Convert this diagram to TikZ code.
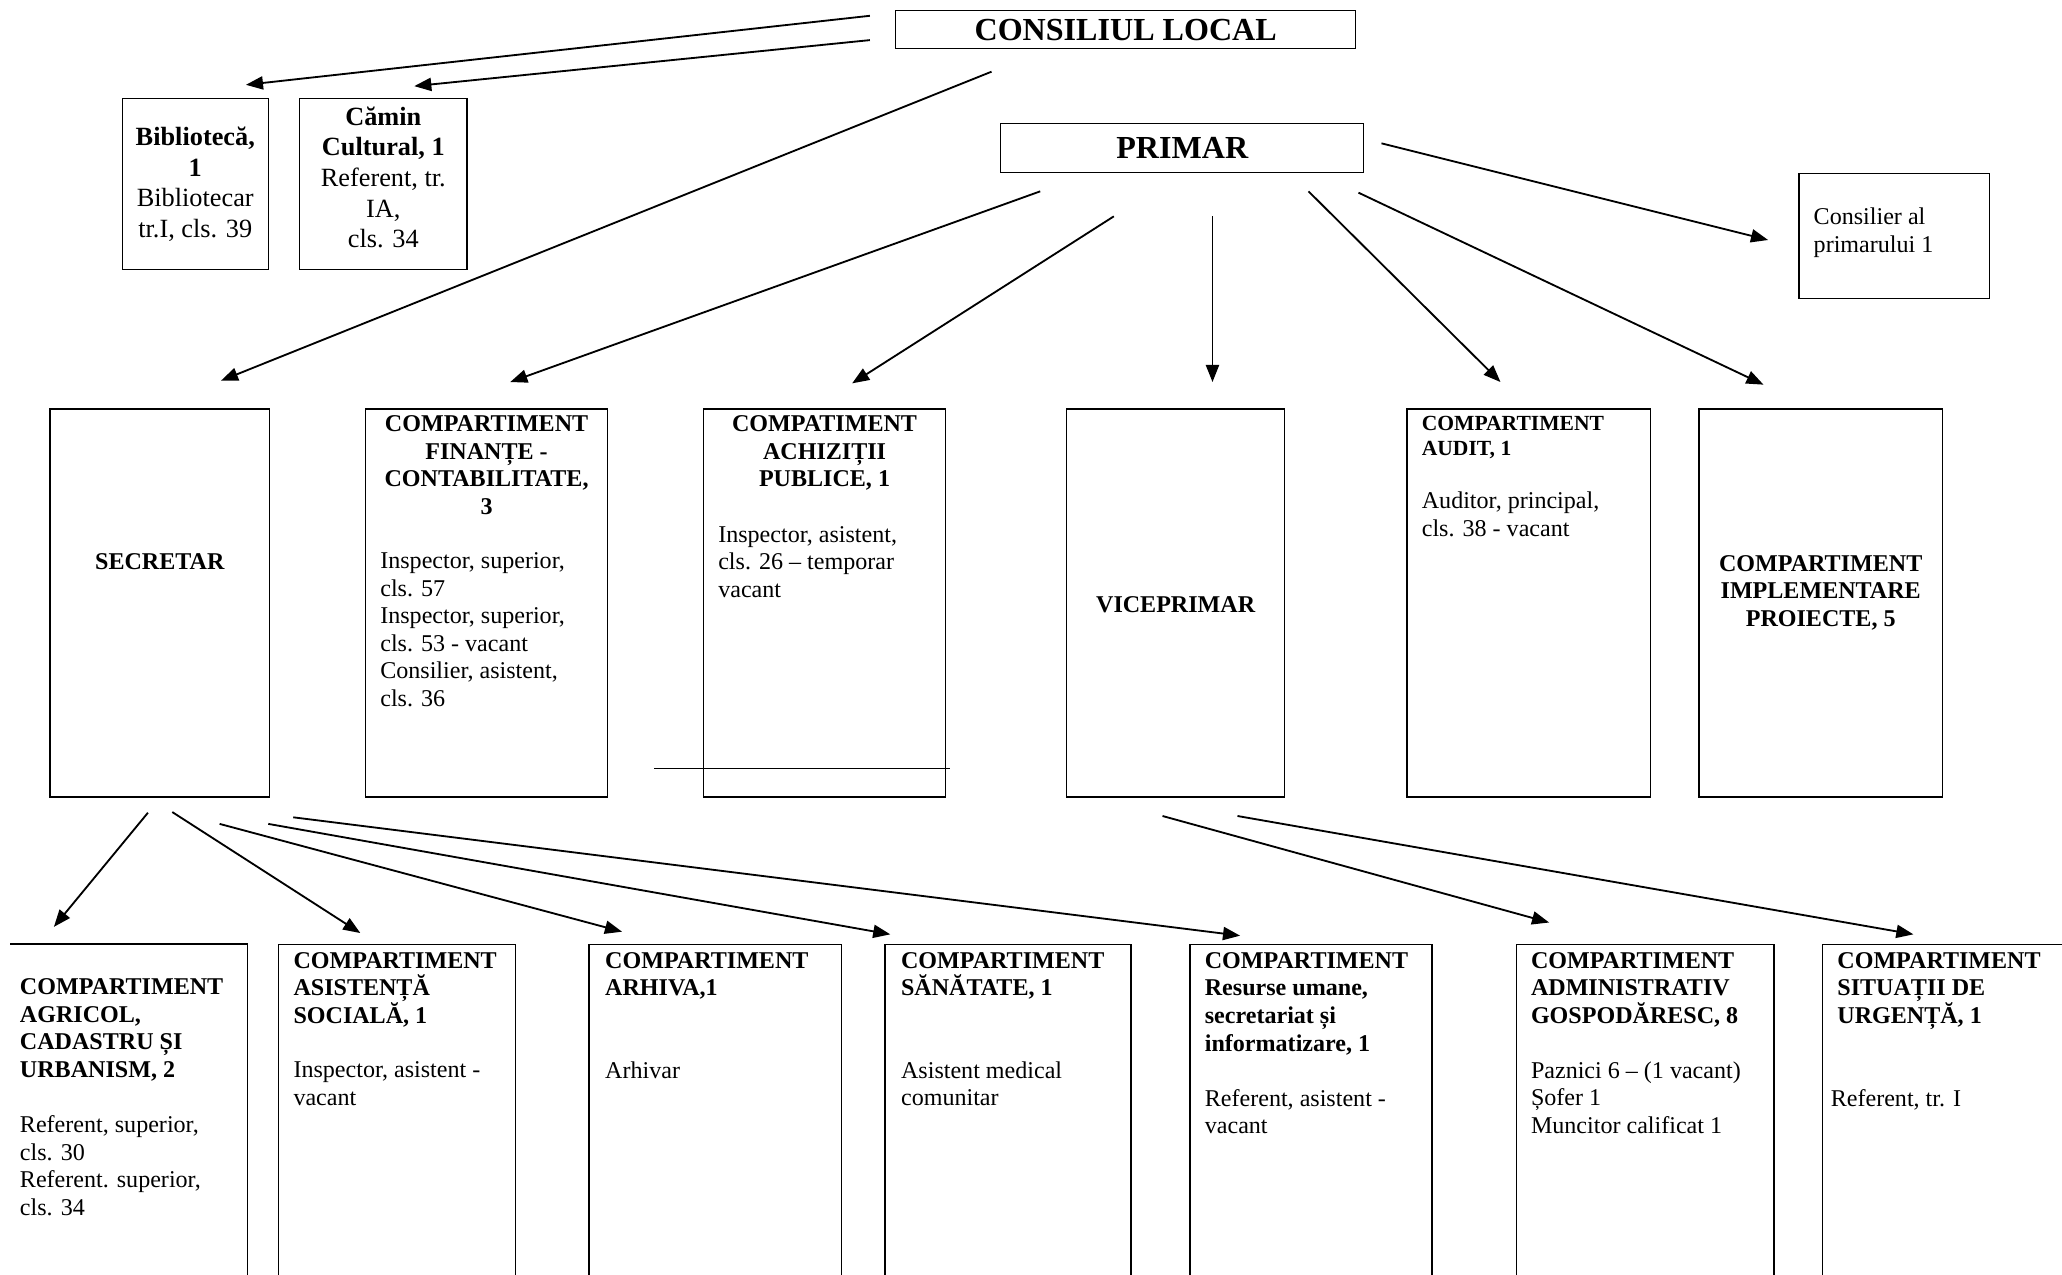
\documentclass[tikz,border=0pt]{standalone}
\usepackage{fontspec}
\setmainfont{Liberation Serif}
\usetikzlibrary{calc}
\usetikzlibrary{arrows.meta}

\newcommand{\nsz}{\fontsize{18.3}{21}\selectfont}
\newcommand{\bsz}{\fontsize{20}{23.3}\selectfont}
\newcommand{\ssz}{\fontsize{16.4}{19}\selectfont}
\newcommand{\hsz}{\fontsize{24.4}{28}\selectfont}

\begin{document}
\begin{tikzpicture}[x=1pt,y=-1pt,
  box/.style={draw,line width=1pt,inner sep=0pt},
  ttl/.style={inner sep=0pt,font=\nsz\bfseries,align=center},
  ltxt/.style={inner sep=0pt,font=\nsz,align=left,anchor=north west},
  arr/.style={line width=1.4pt,-{Triangle[length=13pt,width=10pt]}}]
\useasboundingbox (0,0) rectangle (1568,969);
\clip (0,0) rectangle (1568,969);
\fill[white] (0,0) rectangle (1568,969);

\node[box,minimum width=350pt,minimum height=29pt,font=\hsz\bfseries] (cl) at (856,22.5) {CONSILIUL LOCAL};
\node[box,minimum width=276pt,minimum height=37pt,font=\hsz\bfseries] (prim) at (899,112.5) {PRIMAR};
\node[box,minimum width=111pt,minimum height=130pt,font=\bsz,align=center] (bib) at (148.5,140) {\textbf{Bibliotecă,}\\\textbf{1}\\Bibliotecar\\tr.I, cls. 39};
\node[box,minimum width=127pt,minimum height=130pt] (cam) at (291.5,140) {};
\node[inner sep=0pt,font=\bsz,align=center] (cam-t) at (291.5,135) {\textbf{Cămin}\\\textbf{Cultural, 1}\\Referent, tr.\\IA,\\cls. 34};
\node[box,minimum width=145pt,minimum height=95pt] (cons) at (1440.5,179.5) {};
\node[ltxt] (cons-t) at (1379,158) {Consilier al\\primarului 1};

\node[box,minimum width=167pt,minimum height=295pt] (sec) at (121.5,458.5) {};
\node[ttl] (sec-t) at (121.5,427) {SECRETAR};
\node[box,minimum width=184pt,minimum height=295pt] (fin) at (370,458.5) {};
\node[ttl,anchor=north] (fin-t) at (370,316) {COMPARTIMENT\\FINANȚE -\\CONTABILITATE,\\3};
\node[ltxt] (fin-b) at (289,420) {Inspector, superior,\\cls. 57\\Inspector, superior,\\cls. 53 - vacant\\Consilier, asistent,\\cls. 36};
\node[box,minimum width=184pt,minimum height=295pt] (ach) at (627,458.5) {};
\node[ttl,anchor=north] (ach-t) at (627,316) {COMPATIMENT\\ACHIZIȚII\\PUBLICE, 1};
\node[ltxt] (ach-b) at (546,400) {Inspector, asistent,\\cls. 26 – temporar\\vacant};
\draw[line width=1pt] ($(ach.south west)+(-37,-22)$) -- ($(ach.south east)+(3,-22)$);
\node[box,minimum width=166pt,minimum height=295pt] (vice) at (894,458.5) {};
\node[ttl] (vice-t) at (894,460) {VICEPRIMAR};
\node[box,minimum width=185pt,minimum height=295pt] (aud) at (1162.5,458.5) {};
\node[ltxt,font=\ssz\bfseries] (aud-t) at (1081,316.5) {COMPARTIMENT\\AUDIT, 1};
\node[ltxt] (aud-b) at (1081,374) {Auditor, principal,\\cls. 38 - vacant};
\node[box,minimum width=185pt,minimum height=295pt] (impl) at (1384.5,458.5) {};
\node[ttl,anchor=north] (impl-t) at (1384.5,422) {COMPARTIMENT\\IMPLEMENTARE\\PROIECTE, 5};

\node[inner sep=0pt,minimum width=180pt,minimum height=300pt] (agr) at (98,868) {};
\draw[line width=1pt] (agr.north west) -- (agr.north east) -- (agr.south east);
\node[ltxt,font=\nsz\bfseries] (agr-t) at (15,744) {COMPARTIMENT\\AGRICOL,\\CADASTRU ȘI\\URBANISM, 2};
\node[ltxt] (agr-b) at (15,848) {Referent, superior,\\cls. 30\\Referent. superior,\\cls. 34};
\node[box,minimum width=180pt,minimum height=300pt] (asis) at (302,868) {};
\node[ltxt,font=\nsz\bfseries] (asis-t) at (223,724) {COMPARTIMENT\\ASISTENȚĂ\\SOCIALĂ, 1};
\node[ltxt] (asis-b) at (223,807) {Inspector, asistent -\\vacant};
\node[box,minimum width=192pt,minimum height=300pt] (arh) at (544,868) {};
\node[ltxt,font=\nsz\bfseries] (arh-t) at (460,724) {COMPARTIMENT\\ARHIVA,1};
\node[ltxt] (arh-b) at (460,807) {Arhivar};
\node[box,minimum width=187pt,minimum height=300pt] (san) at (766.5,868) {};
\node[ltxt,font=\nsz\bfseries] (san-t) at (685,724) {COMPARTIMENT\\SĂNĂTATE, 1};
\node[ltxt] (san-b) at (685,807) {Asistent medical\\comunitar};
\node[box,minimum width=184pt,minimum height=300pt] (res) at (997,868) {};
\node[ltxt,font=\nsz\bfseries] (res-t) at (916,724) {COMPARTIMENT\\Resurse umane,\\secretariat și\\informatizare, 1};
\node[ltxt] (res-b) at (916,828) {Referent, asistent -\\vacant};
\node[box,minimum width=196pt,minimum height=300pt] (adm) at (1251,868) {};
\node[ltxt,font=\nsz\bfseries] (adm-t) at (1164,724) {COMPARTIMENT\\ADMINISTRATIV\\GOSPODĂRESC, 8};
\node[ltxt] (adm-b) at (1164,807) {Paznici 6 – (1 vacant)\\Șofer 1\\Muncitor calificat 1};
\node[box,minimum width=214pt,minimum height=300pt] (sit) at (1493,868) {};
\node[ltxt,font=\nsz\bfseries] (sit-t) at (1397,724) {COMPARTIMENT\\SITUAȚII DE\\URGENȚĂ, 1};
\node[ltxt] (sit-b) at (1392,828) {Referent, tr. I};

\draw[arr] ($(cl.west)+(-19,-10.5)$) -- ($(bib.north)+(38.5,-10)$);
\draw[arr] ($(cl.west)+(-19,8)$) -- ($(cam.north)+(23.5,-9)$);
\draw[arr] ($(cl.south)+(-102,17)$) -- ($(sec.north)+(46.5,-21)$);
\draw[arr] ($(prim.south)+(-108,14)$) -- ($(fin.north)+(18,-20)$);
\draw[arr] ($(prim.south)+(-52,33)$) -- ($(ach.north)+(21,-19)$);
\draw[arr] ($(prim.south)+(23,33)$) -- ($(vice.north)+(28,-20)$);
\draw[arr] ($(prim.south)+(96,14)$) -- ($(aud.north)+(-21.5,-20)$);
\draw[arr] ($(prim.south)+(134,15)$) -- ($(impl.north)+(-43.5,-18)$);
\draw[arr] ($(prim.east)+(13,-3.5)$) -- ($(cons.west)+(-23,3)$);
\draw[arr] ($(sec.south)+(-9,11.5)$) -- ($(agr.north)+(-57,-13)$);
\draw[arr] ($(sec.south)+(9.5,11)$) -- ($(asis.north)+(-28,-8)$);
\draw[arr] ($(sec.south)+(45.5,20)$) -- ($(arh.north)+(-71,-9)$);
\draw[arr] ($(sec.south)+(82.5,20)$) -- ($(san.north)+(-89.5,-7)$);
\draw[arr] ($(sec.south)+(101.5,15)$) -- ($(res.north)+(-54,-6)$);
\draw[arr] ($(vice.south)+(-10,14)$) -- ($(adm.north)+(-73,-16)$);
\draw[arr] ($(vice.south)+(47,14)$) -- ($(sit.north)+(-38,-7)$);
\end{tikzpicture}
\end{document}
